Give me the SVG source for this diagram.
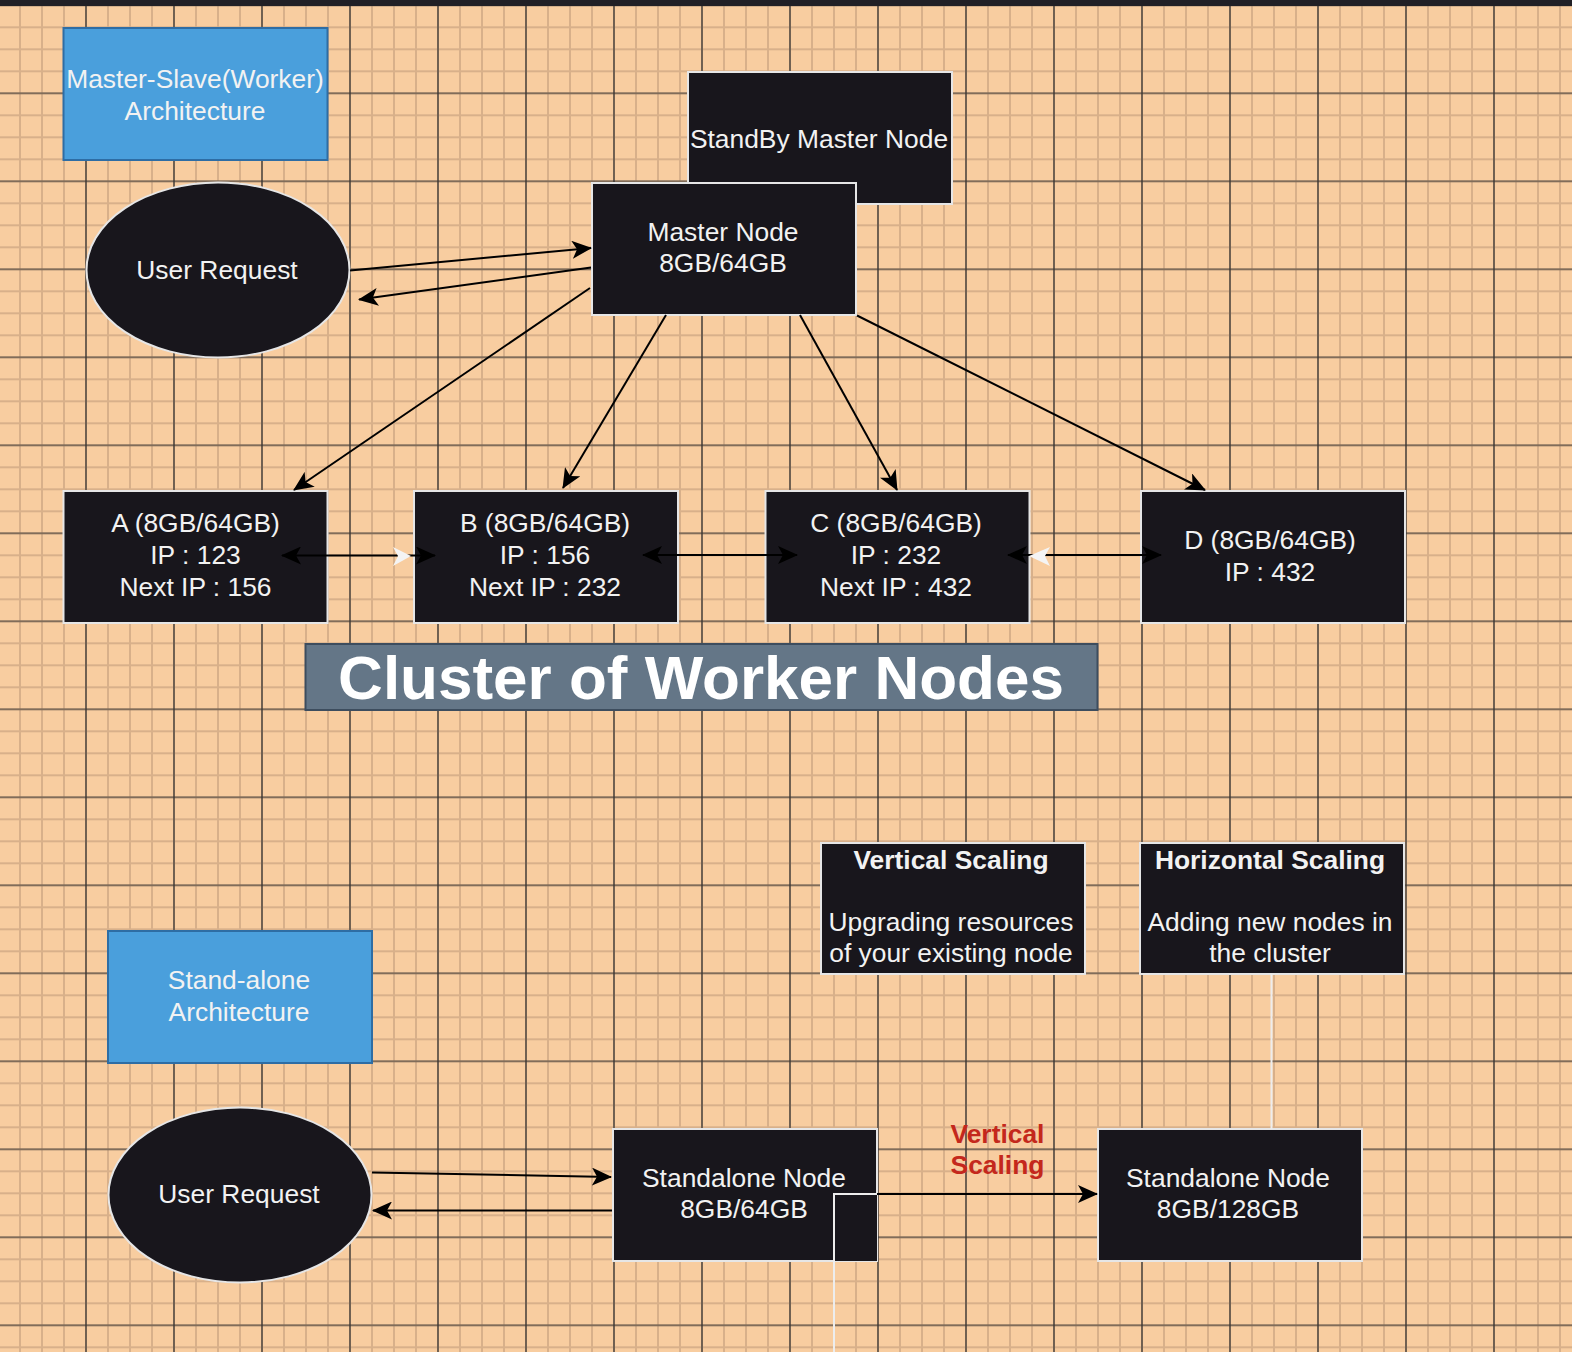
<svg xmlns="http://www.w3.org/2000/svg" width="1572" height="1352" viewBox="0 0 1572 1352">
<defs>
<pattern id="grid" width="88" height="88" patternUnits="userSpaceOnUse" x="31" y="38.3">
<rect width="88" height="88" fill="#F8CDA0"/>
<g stroke="#D8B08A" stroke-width="2">
<line x1="11" y1="0" x2="11" y2="88"/><line x1="33" y1="0" x2="33" y2="88"/><line x1="55" y1="0" x2="55" y2="88"/><line x1="77" y1="0" x2="77" y2="88"/>
<line x1="0" y1="11" x2="88" y2="11"/><line x1="0" y1="33" x2="88" y2="33"/><line x1="0" y1="55" x2="88" y2="55"/><line x1="0" y1="77" x2="88" y2="77"/>
</g>
<g stroke="#2b2b2b" stroke-width="1.2">
<line x1="55" y1="0" x2="55" y2="88"/><line x1="0" y1="55" x2="88" y2="55"/>
</g>
</pattern>
<marker id="arr" viewBox="0 0 20 18" markerWidth="20" markerHeight="18" refX="19" refY="9" orient="auto-start-reverse" markerUnits="userSpaceOnUse">
<path d="M0,0 L20,9 L0,18 L5,9 Z" fill="#000"/>
</marker>
<style>
.node{fill:#18161C;stroke:#E6E6E6;stroke-width:2}
.blue{fill:#4A9FDC;stroke:#2E6DA4;stroke-width:2}
.t{font-family:"Liberation Sans",Arial,Helvetica,sans-serif;font-size:26.4px;fill:#F2F2F2;text-anchor:middle}
.b{font-weight:bold}
.edge{fill:none;stroke:#000;stroke-width:2}
.wline{fill:none;stroke:#EDEDED;stroke-width:2}
</style>
</defs>
<rect x="0" y="0" width="1572" height="1352" fill="url(#grid)"/>
<rect x="0" y="0" width="1572" height="6" fill="#212026"/>

<g id="title-master-slave">
<rect class="blue" x="63.5" y="28" width="264" height="132"/>
<text class="t" x="195" y="87.5">Master-Slave(Worker)</text>
<text class="t" x="195" y="119.5">Architecture</text>
</g>
<g id="standby-master">
<rect class="node" x="688" y="72" width="264" height="132"/>
<text class="t" x="819" y="147.5">StandBy Master Node</text>
</g>
<g id="master">
<rect class="node" x="592" y="183" width="264" height="132"/>
<text class="t" x="723" y="241">Master Node</text>
<text class="t" x="723" y="272">8GB/64GB</text>
</g>
<g id="user-request-1">
<ellipse class="node" cx="218" cy="270" rx="131.5" ry="87.5"/>
<text class="t" x="217" y="279">User Request</text>
</g>
<g id="worker-a">
<rect class="node" x="63.5" y="491" width="264" height="132"/>
<text class="t" x="195.5" y="532">A (8GB/64GB)</text>
<text class="t" x="195.5" y="564">IP : 123</text>
<text class="t" x="195.5" y="596">Next IP : 156</text>
</g>
<g id="worker-b">
<rect class="node" x="414" y="491" width="264" height="132"/>
<text class="t" x="545" y="532">B (8GB/64GB)</text>
<text class="t" x="545" y="564">IP : 156</text>
<text class="t" x="545" y="596">Next IP : 232</text>
</g>
<g id="worker-c">
<rect class="node" x="765.5" y="491" width="264" height="132"/>
<text class="t" x="896" y="532">C (8GB/64GB)</text>
<text class="t" x="896" y="564">IP : 232</text>
<text class="t" x="896" y="596">Next IP : 432</text>
</g>
<g id="worker-d">
<rect class="node" x="1141" y="491" width="264" height="132"/>
<text class="t" x="1270" y="548.5">D (8GB/64GB)</text>
<text class="t" x="1270" y="580.5">IP : 432</text>
</g>
<g id="cluster-label">
<rect x="305.5" y="644" width="792" height="66" fill="#647687" stroke="#3D4D5E" stroke-width="2"/>
<text class="t b" x="701" y="698.5" style="font-size:62px;fill:#FFFFFF">Cluster of Worker Nodes</text>
</g>
<g id="vertical-scaling">
<rect class="node" x="821" y="843" width="264" height="131"/>
<text class="t b" x="951" y="868.5">Vertical Scaling</text>
<text class="t" x="951" y="931">Upgrading resources</text>
<text class="t" x="951" y="962">of your existing node</text>
</g>
<g id="horizontal-scaling">
<rect class="node" x="1140" y="843" width="264" height="131"/>
<text class="t b" x="1270" y="868.5">Horizontal Scaling</text>
<text class="t" x="1270" y="931">Adding new nodes in</text>
<text class="t" x="1270" y="962">the cluster</text>
</g>
<g id="title-standalone">
<rect class="blue" x="108" y="931" width="264" height="132"/>
<text class="t" x="239" y="989">Stand-alone</text>
<text class="t" x="239" y="1020.5">Architecture</text>
</g>
<g id="user-request-2">
<ellipse class="node" cx="240" cy="1195" rx="131.5" ry="87.5"/>
<text class="t" x="239" y="1202.5">User Request</text>
</g>
<g id="standalone-64">
<rect class="node" x="613" y="1129" width="264" height="132"/>
<text class="t" x="744" y="1187">Standalone Node</text>
<text class="t" x="744" y="1218">8GB/64GB</text>
</g>
<g id="standalone-overlap">
<rect x="834" y="1194" width="43" height="67" fill="#18161C"/>
</g>
<g id="standalone-128">
<rect class="node" x="1098" y="1129" width="264" height="132"/>
<text class="t" x="1228" y="1187">Standalone Node</text>
<text class="t" x="1228" y="1218">8GB/128GB</text>
</g>
<g id="vertical-scaling-label">
<text class="t b" x="997.5" y="1142.5" style="fill:#C4281C">Vertical</text>
<text class="t b" x="997.5" y="1174" style="fill:#C4281C">Scaling</text>
</g>

<g id="connectors">
<line class="edge" x1="350" y1="270.5" x2="591" y2="248" marker-end="url(#arr)"/>
<line class="edge" x1="591" y1="267.5" x2="359" y2="299.5" marker-end="url(#arr)"/>
<line class="edge" x1="590" y1="288" x2="294" y2="490" marker-end="url(#arr)"/>
<line class="edge" x1="666" y1="315" x2="563" y2="488" marker-end="url(#arr)"/>
<line class="edge" x1="800" y1="315" x2="897" y2="490" marker-end="url(#arr)"/>
<line class="edge" x1="857" y1="315.5" x2="1205" y2="490" marker-end="url(#arr)"/>
<line class="edge" x1="282" y1="555.5" x2="435" y2="555.5" marker-start="url(#arr)" marker-end="url(#arr)"/>
<line class="edge" x1="643" y1="555" x2="797" y2="555" marker-start="url(#arr)" marker-end="url(#arr)"/>
<line class="edge" x1="1008" y1="555" x2="1161" y2="555" marker-start="url(#arr)" marker-end="url(#arr)"/>
<path d="M393,547 L411,556 L393,566 L398,556 Z" fill="#F4F4F4"/>
<path d="M1050,547 L1029,556 L1050,566 L1045,556 Z" fill="#F4F4F4"/>
<line class="edge" x1="372" y1="1172.5" x2="611" y2="1177" marker-end="url(#arr)"/>
<line class="edge" x1="612" y1="1210.5" x2="373" y2="1210.5" marker-end="url(#arr)"/>
<line class="edge" x1="877" y1="1194" x2="1097" y2="1194" marker-end="url(#arr)"/>
<path class="wline" d="M834,1352 L834,1194 L877,1194"/>
<line class="wline" x1="1271.5" y1="974" x2="1271.5" y2="1129"/>
</g>
</svg>
